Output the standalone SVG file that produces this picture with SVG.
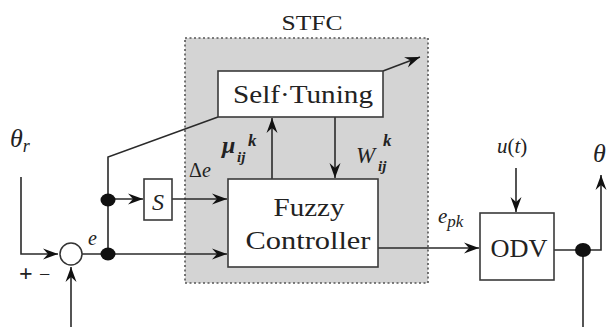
<svg xmlns="http://www.w3.org/2000/svg" width="607" height="327" viewBox="0 0 607 327">
<style>
.ln{fill:none;stroke:#2a2a2a;stroke-width:1.6}
.bx{fill:#fff;stroke:#3a3a3a;stroke-width:1.6}
.dot{fill:#111;stroke:none}
text{font-family:"Liberation Serif",serif;fill:#222}
.it{font-style:italic}
</style>
<defs>
<marker id="ah" markerUnits="userSpaceOnUse" markerWidth="17" markerHeight="12" viewBox="-16 -6 17 12" refX="0" refY="0" orient="auto">
<path d="M0,0 L-15,-5.5 L-10,0 L-15,5.5 Z" fill="#111"/>
</marker>
</defs>
<rect width="607" height="327" fill="#fff"/>
<g id="stfc">
<rect x="185" y="38" width="243" height="245" fill="#d4d4d4" stroke="#555" stroke-width="1.6" stroke-dasharray="2,2.5"/>
<text x="312" y="30" font-size="22" text-anchor="middle" textLength="61" lengthAdjust="spacingAndGlyphs">STFC</text>
</g>
<g id="connectors">
<polyline class="ln" points="21,177 21,254 58,254" marker-end="url(#ah)"/>
<line class="ln" x1="71" y1="327" x2="71" y2="267" marker-end="url(#ah)"/>
<line class="ln" x1="82" y1="254" x2="227" y2="254" marker-end="url(#ah)"/>
<polyline class="ln" points="108,254 108,157 218,117"/>
<line class="ln" x1="108" y1="199" x2="143" y2="199" marker-end="url(#ah)"/>
<line class="ln" x1="172" y1="199" x2="227" y2="199" marker-end="url(#ah)"/>
<line class="ln" x1="383" y1="71" x2="420" y2="57" marker-end="url(#ah)"/>
<line class="ln" x1="272" y1="179" x2="272" y2="118" marker-end="url(#ah)"/>
<line class="ln" x1="335" y1="117" x2="335" y2="178" marker-end="url(#ah)"/>
<line class="ln" x1="378" y1="248" x2="479" y2="248" marker-end="url(#ah)"/>
<line class="ln" x1="516" y1="168" x2="516" y2="212" marker-end="url(#ah)"/>
<polyline class="ln" points="554,250 601,250 601,175" marker-end="url(#ah)"/>
<line class="ln" x1="583" y1="250" x2="583" y2="327"/>
<ellipse class="dot" cx="108" cy="200" rx="7.5" ry="6.5"/>
<ellipse class="dot" cx="108" cy="254" rx="7.5" ry="6.5"/>
<ellipse class="dot" cx="583" cy="250" rx="8" ry="7"/>
</g>
<g id="sum">
<circle cx="71" cy="254" r="11" fill="#fff" stroke="#333" stroke-width="1.5"/>
<text x="19" y="281" font-size="24" font-weight="bold">+</text>
<text x="39" y="281" font-size="20">−</text>
</g>
<g id="s-block">
<rect class="bx" x="144" y="179" width="28" height="41"/>
<text class="it" x="158" y="210" font-size="24" text-anchor="middle">S</text>
</g>
<g id="self-tuning">
<rect class="bx" x="218" y="71" width="165" height="46"/>
<text x="303" y="103" font-size="25" text-anchor="middle" textLength="140" lengthAdjust="spacingAndGlyphs">Self·Tuning</text>
</g>
<g id="fuzzy-controller">
<rect class="bx" x="228" y="179" width="150" height="88"/>
<text x="309" y="216" font-size="26" text-anchor="middle" textLength="71" lengthAdjust="spacingAndGlyphs">Fuzzy</text>
<text x="308" y="249" font-size="26" text-anchor="middle" textLength="125" lengthAdjust="spacingAndGlyphs">Controller</text>
</g>
<g id="odv">
<rect class="bx" x="480" y="213" width="74" height="67"/>
<text x="519" y="257" font-size="25" text-anchor="middle" textLength="57" lengthAdjust="spacingAndGlyphs">ODV</text>
</g>
<g id="labels">
<text class="it" x="10" y="147" font-size="26">θ<tspan font-size="18" dy="5">r</tspan></text>
<text class="it" x="88" y="245" font-size="20">e</text>
<text x="189" y="177" font-size="20">Δ<tspan font-style="italic">e</tspan></text>
<text class="it" x="222" y="153" font-size="24" font-weight="bold">μ</text>
<text class="it" x="237" y="162" font-size="15" font-weight="bold">ij</text>
<text class="it" x="248" y="146" font-size="17" font-weight="bold">k</text>
<text class="it" x="356" y="163" font-size="23">W</text>
<text class="it" x="378" y="171" font-size="15" font-weight="bold">ij</text>
<text class="it" x="383" y="146" font-size="17" font-weight="bold">k</text>
<text class="it" x="438" y="223" font-size="21">e<tspan font-size="17" dy="4">pk</tspan></text>
<text x="497" y="153" font-size="21"><tspan font-style="italic">u</tspan>(<tspan font-style="italic">t</tspan>)</text>
<text class="it" x="593" y="162" font-size="26">θ</text>
</g>
</svg>
